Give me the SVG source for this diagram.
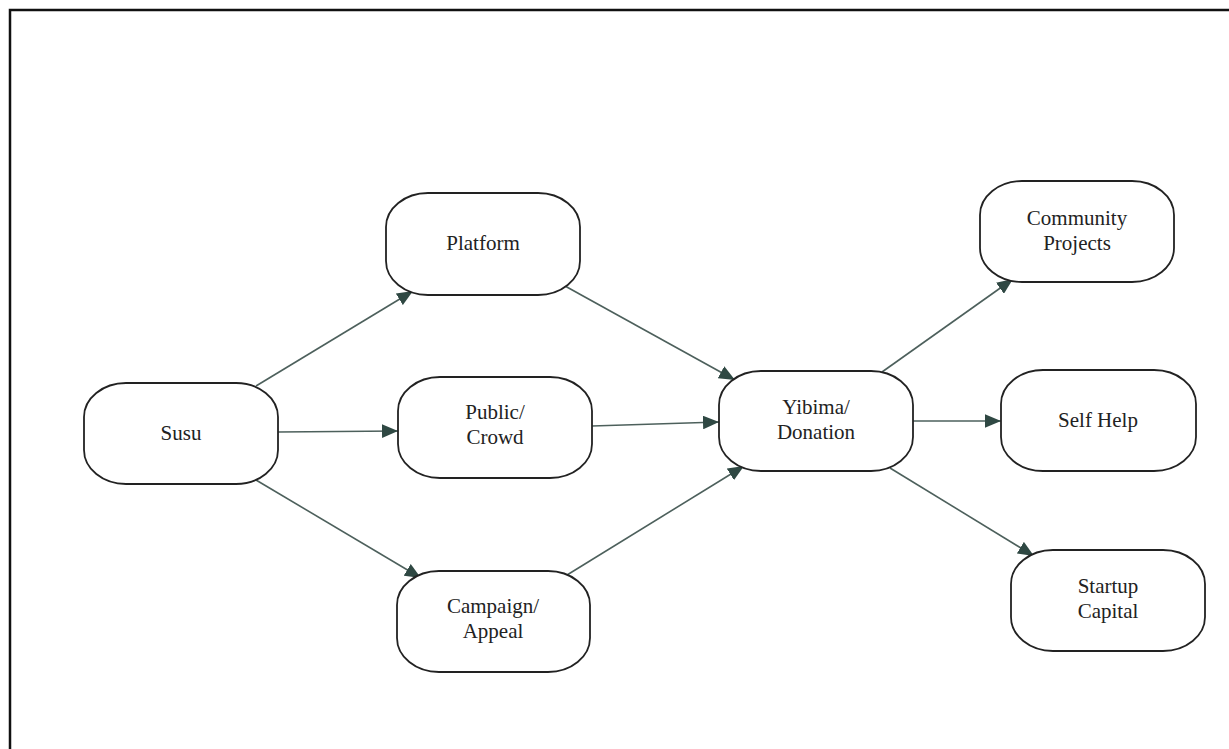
<svg xmlns="http://www.w3.org/2000/svg" width="1229" height="749" viewBox="0 0 1229 749">
  <style>
    .node rect { fill: #ffffff; stroke: #222222; stroke-width: 1.8; }
    .node text { font-family: "Liberation Serif", "Times New Roman", serif; font-size: 21px; fill: #222222; text-anchor: middle; }
    .edge { stroke: #4d605c; stroke-width: 1.6; fill: none; marker-end: url(#arrow); }
  </style>
  <defs>
    <marker id="arrow" viewBox="0 0 10 10" refX="10" refY="5" markerWidth="10" markerHeight="8.5" markerUnits="strokeWidth" orient="auto" preserveAspectRatio="none">
      <path d="M0,0 L10,5 L0,10 Z" fill="#2f4843"/>
    </marker>
  </defs>

  <rect width="1229" height="749" fill="#ffffff"/>
  <!-- outer frame, running past the right and bottom edges -->
  <path d="M10,760 L10,10 L1240,10" fill="none" stroke="#111111" stroke-width="2.5"/>

  <g id="connectors">
    <line class="edge" x1="256" y1="386" x2="413" y2="291"/>
    <line class="edge" x1="278" y1="432" x2="398" y2="431"/>
    <line class="edge" x1="256" y1="480" x2="421" y2="578"/>
    <line class="edge" x1="565" y1="286" x2="735" y2="380"/>
    <line class="edge" x1="592" y1="426" x2="719" y2="422"/>
    <line class="edge" x1="567" y1="575" x2="744" y2="466"/>
    <line class="edge" x1="882" y1="372" x2="1013" y2="279"/>
    <line class="edge" x1="913" y1="421" x2="1001" y2="421"/>
    <line class="edge" x1="890" y1="468" x2="1034" y2="556"/>
  </g>

  <g id="susu" class="node">
    <rect x="84" y="383" width="194" height="101" rx="42" ry="34"/>
    <text x="181" y="440">Susu</text>
  </g>
  <g id="platform" class="node">
    <rect x="386" y="193" width="194" height="102" rx="42" ry="34"/>
    <text x="483" y="250">Platform</text>
  </g>
  <g id="public-crowd" class="node">
    <rect x="398" y="377" width="194" height="101" rx="42" ry="34"/>
    <text x="495" y="419">Public/</text>
    <text x="495" y="444">Crowd</text>
  </g>
  <g id="campaign-appeal" class="node">
    <rect x="397" y="571" width="193" height="101" rx="42" ry="34"/>
    <text x="493" y="613">Campaign/</text>
    <text x="493" y="638">Appeal</text>
  </g>
  <g id="yibima-donation" class="node">
    <rect x="719" y="371" width="194" height="100" rx="42" ry="34"/>
    <text x="816" y="414">Yibima/</text>
    <text x="816" y="439">Donation</text>
  </g>
  <g id="community-projects" class="node">
    <rect x="980" y="181" width="194" height="101" rx="42" ry="34"/>
    <text x="1077" y="225">Community</text>
    <text x="1077" y="250">Projects</text>
  </g>
  <g id="self-help" class="node">
    <rect x="1001" y="370" width="195" height="101" rx="42" ry="34"/>
    <text x="1098" y="427">Self Help</text>
  </g>
  <g id="startup-capital" class="node">
    <rect x="1011" y="550" width="194" height="101" rx="42" ry="34"/>
    <text x="1108" y="593">Startup</text>
    <text x="1108" y="618">Capital</text>
  </g>
</svg>
